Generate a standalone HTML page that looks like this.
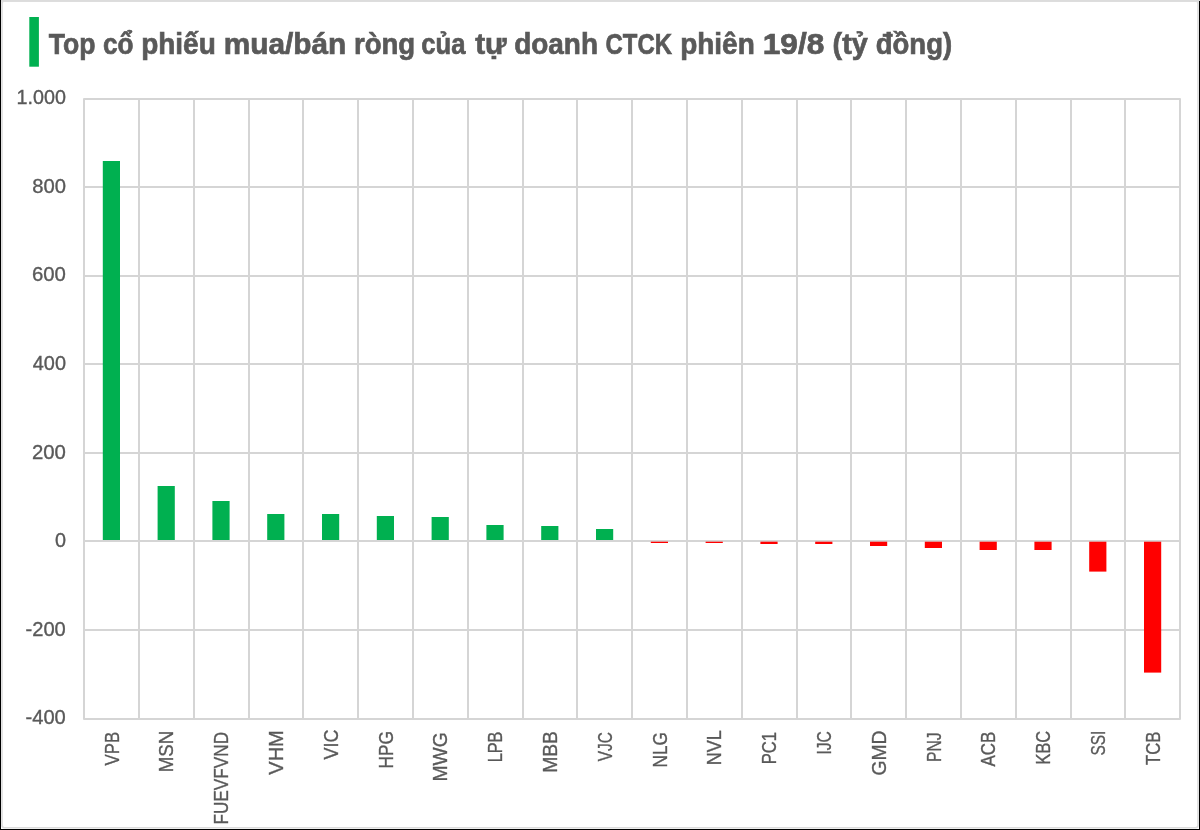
<!DOCTYPE html>
<html lang="vi">
<head>
<meta charset="utf-8">
<title>Top cổ phiếu mua/bán ròng của tự doanh CTCK phiên 19/8</title>
<style>
html,body{margin:0;padding:0;background:#fff;width:1200px;height:830px;overflow:hidden}
</style>
</head>
<body>
<svg width="1200" height="830" viewBox="0 0 1200 830" style="display:block;position:absolute;left:0;top:0;will-change:transform" font-family='"Liberation Sans", sans-serif'>
<rect x="0" y="0" width="1200" height="830" fill="#fff"/>
<g stroke="#d5d5d5" stroke-width="2" fill="none" stroke-linejoin="round">
<line x1="84" y1="187" x2="1180" y2="187"/>
<line x1="84" y1="276" x2="1180" y2="276"/>
<line x1="84" y1="364" x2="1180" y2="364"/>
<line x1="84" y1="453" x2="1180" y2="453"/>
<line x1="84" y1="541" x2="1180" y2="541"/>
<line x1="84" y1="630" x2="1180" y2="630"/>
<line x1="139" y1="99" x2="139" y2="719"/>
<line x1="194" y1="99" x2="194" y2="719"/>
<line x1="249" y1="99" x2="249" y2="719"/>
<line x1="303" y1="99" x2="303" y2="719"/>
<line x1="358" y1="99" x2="358" y2="719"/>
<line x1="413" y1="99" x2="413" y2="719"/>
<line x1="468" y1="99" x2="468" y2="719"/>
<line x1="523" y1="99" x2="523" y2="719"/>
<line x1="577" y1="99" x2="577" y2="719"/>
<line x1="632" y1="99" x2="632" y2="719"/>
<line x1="687" y1="99" x2="687" y2="719"/>
<line x1="742" y1="99" x2="742" y2="719"/>
<line x1="797" y1="99" x2="797" y2="719"/>
<line x1="851" y1="99" x2="851" y2="719"/>
<line x1="906" y1="99" x2="906" y2="719"/>
<line x1="961" y1="99" x2="961" y2="719"/>
<line x1="1016" y1="99" x2="1016" y2="719"/>
<line x1="1071" y1="99" x2="1071" y2="719"/>
<line x1="1125" y1="99" x2="1125" y2="719"/>
<rect x="84" y="99" width="1096" height="620"/>
</g>
<g>
<rect x="102.80" y="161.00" width="17.2" height="379.00" fill="#00b050"/>
<rect x="157.60" y="486.00" width="17.2" height="54.00" fill="#00b050"/>
<rect x="212.40" y="501.00" width="17.2" height="39.00" fill="#00b050"/>
<rect x="267.20" y="514.00" width="17.2" height="26.00" fill="#00b050"/>
<rect x="322.00" y="514.00" width="17.2" height="26.00" fill="#00b050"/>
<rect x="376.80" y="516.00" width="17.2" height="24.00" fill="#00b050"/>
<rect x="431.60" y="517.00" width="17.2" height="23.00" fill="#00b050"/>
<rect x="486.40" y="525.00" width="17.2" height="15.00" fill="#00b050"/>
<rect x="541.20" y="526.00" width="17.2" height="14.00" fill="#00b050"/>
<rect x="596.00" y="529.00" width="17.2" height="11.00" fill="#00b050"/>
<rect x="650.80" y="541.70" width="17.2" height="1.30" fill="#ff0000"/>
<rect x="705.60" y="541.70" width="17.2" height="1.30" fill="#ff0000"/>
<rect x="760.40" y="541.70" width="17.2" height="2.30" fill="#ff0000"/>
<rect x="815.20" y="541.70" width="17.2" height="2.30" fill="#ff0000"/>
<rect x="870.00" y="541.70" width="17.2" height="4.30" fill="#ff0000"/>
<rect x="924.80" y="541.70" width="17.2" height="6.30" fill="#ff0000"/>
<rect x="979.60" y="541.70" width="17.2" height="8.30" fill="#ff0000"/>
<rect x="1034.40" y="541.70" width="17.2" height="8.30" fill="#ff0000"/>
<rect x="1089.20" y="541.70" width="17.2" height="29.90" fill="#ff0000"/>
<rect x="1144.00" y="541.70" width="17.2" height="130.90" fill="#ff0000"/>
</g>
<rect x="29.3" y="17" width="9.6" height="49.7" fill="#00b050"/>
<text y="53.60" font-size="30.0" font-weight="700" fill="#595959" stroke="#595959" stroke-width="0.7"><tspan x="48.74" textLength="46.70" lengthAdjust="spacingAndGlyphs">Top</tspan> <tspan x="103.00" textLength="30.57" lengthAdjust="spacingAndGlyphs">cổ</tspan> <tspan x="141.14" textLength="74.63" lengthAdjust="spacingAndGlyphs">phiếu</tspan> <tspan x="223.76" textLength="122.52" lengthAdjust="spacingAndGlyphs">mua/bán</tspan> <tspan x="353.91" textLength="61.33" lengthAdjust="spacingAndGlyphs">ròng</tspan> <tspan x="421.28" textLength="44.23" lengthAdjust="spacingAndGlyphs">của</tspan> <tspan x="475.20" textLength="31.48" lengthAdjust="spacingAndGlyphs">tự</tspan> <tspan x="514.18" textLength="83.87" lengthAdjust="spacingAndGlyphs">doanh</tspan> <tspan x="605.60" textLength="66.44" lengthAdjust="spacingAndGlyphs">CTCK</tspan> <tspan x="680.13" textLength="74.61" lengthAdjust="spacingAndGlyphs">phiên</tspan> <tspan x="762.68" textLength="61.62" lengthAdjust="spacingAndGlyphs">19/8</tspan> <tspan x="832.62" textLength="35.18" lengthAdjust="spacingAndGlyphs">(tỷ</tspan> <tspan x="875.70" textLength="76.42" lengthAdjust="spacingAndGlyphs">đồng)</tspan></text>
<g font-size="19.8" fill="#595959" stroke="#595959" stroke-width="0.35" text-anchor="end">
<text x="65.95" y="104.25" textLength="49.37" lengthAdjust="spacingAndGlyphs">1.000</text>
<text x="65.95" y="192.79" textLength="33.71" lengthAdjust="spacingAndGlyphs">800</text>
<text x="65.95" y="281.32" textLength="33.98" lengthAdjust="spacingAndGlyphs">600</text>
<text x="65.95" y="370.11" textLength="33.18" lengthAdjust="spacingAndGlyphs">400</text>
<text x="65.95" y="458.64" textLength="33.98" lengthAdjust="spacingAndGlyphs">200</text>
<text x="65.95" y="547.18" textLength="11.02" lengthAdjust="spacingAndGlyphs">0</text>
<text x="65.80" y="635.71" textLength="40.28" lengthAdjust="spacingAndGlyphs">-200</text>
<text x="65.80" y="724.25" textLength="40.28" lengthAdjust="spacingAndGlyphs">-400</text>
</g>
<g font-size="20.5" fill="#595959" stroke="#595959" stroke-width="0.35" text-anchor="end">
<text transform="translate(118.55 731.90) rotate(-90)" x="0" y="0" textLength="33.57" lengthAdjust="spacingAndGlyphs">VPB</text>
<text transform="translate(173.45 730.85) rotate(-90)" x="0" y="0" textLength="41.45" lengthAdjust="spacingAndGlyphs">MSN</text>
<text transform="translate(228.22 731.90) rotate(-90)" x="0" y="0" textLength="92.66" lengthAdjust="spacingAndGlyphs">FUEVFVND</text>
<text transform="translate(283.00 730.30) rotate(-90)" x="0" y="0" textLength="44.37" lengthAdjust="spacingAndGlyphs">VHM</text>
<text transform="translate(337.90 729.60) rotate(-90)" x="0" y="0" textLength="29.91" lengthAdjust="spacingAndGlyphs">VIC</text>
<text transform="translate(392.80 731.10) rotate(-90)" x="0" y="0" textLength="37.44" lengthAdjust="spacingAndGlyphs">HPG</text>
<text transform="translate(447.45 732.20) rotate(-90)" x="0" y="0" textLength="49.24" lengthAdjust="spacingAndGlyphs">MWG</text>
<text transform="translate(502.10 731.60) rotate(-90)" x="0" y="0" textLength="30.74" lengthAdjust="spacingAndGlyphs">LPB</text>
<text transform="translate(557.00 731.00) rotate(-90)" x="0" y="0" textLength="41.87" lengthAdjust="spacingAndGlyphs">MBB</text>
<text transform="translate(611.90 732.15) rotate(-90)" x="0" y="0" textLength="29.14" lengthAdjust="spacingAndGlyphs">VJC</text>
<text transform="translate(666.80 732.10) rotate(-90)" x="0" y="0" textLength="35.30" lengthAdjust="spacingAndGlyphs">NLG</text>
<text transform="translate(721.45 730.15) rotate(-90)" x="0" y="0" textLength="35.22" lengthAdjust="spacingAndGlyphs">NVL</text>
<text transform="translate(776.35 731.90) rotate(-90)" x="0" y="0" textLength="32.30" lengthAdjust="spacingAndGlyphs">PC1</text>
<text transform="translate(831.25 731.15) rotate(-90)" x="0" y="0" textLength="23.33" lengthAdjust="spacingAndGlyphs">IJC</text>
<text transform="translate(885.90 730.60) rotate(-90)" x="0" y="0" textLength="45.01" lengthAdjust="spacingAndGlyphs">GMD</text>
<text transform="translate(940.68 732.45) rotate(-90)" x="0" y="0" textLength="29.58" lengthAdjust="spacingAndGlyphs">PNJ</text>
<text transform="translate(995.45 731.60) rotate(-90)" x="0" y="0" textLength="34.87" lengthAdjust="spacingAndGlyphs">ACB</text>
<text transform="translate(1050.35 730.85) rotate(-90)" x="0" y="0" textLength="33.63" lengthAdjust="spacingAndGlyphs">KBC</text>
<text transform="translate(1105.25 730.75) rotate(-90)" x="0" y="0" textLength="24.86" lengthAdjust="spacingAndGlyphs">SSI</text>
<text transform="translate(1159.90 731.60) rotate(-90)" x="0" y="0" textLength="33.48" lengthAdjust="spacingAndGlyphs">TCB</text>
</g>
<rect x="0" y="0" width="1200" height="1.8" fill="#d9d9d9"/>
<rect x="2" y="0.9" width="1196" height="826.8" rx="2.5" ry="2.5" fill="none" stroke="#dcdcdc" stroke-width="1.6"/>
<rect x="0" y="0" width="1" height="830" fill="#000"/>
<rect x="1199" y="1" width="1" height="829" fill="#000"/>
<rect x="0" y="829" width="1200" height="1" fill="#000"/>
</svg>
</body>
</html>
